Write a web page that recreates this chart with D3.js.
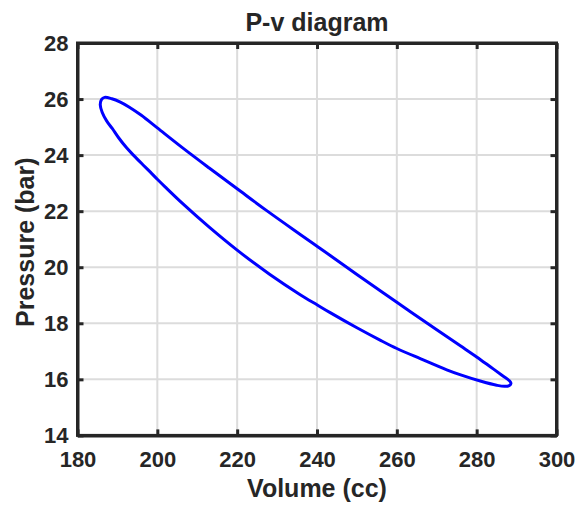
<!DOCTYPE html>
<html>
<head>
<meta charset="utf-8">
<script src="https://cdn.jsdelivr.net/npm/d3@7"></script>
<style>
  body { margin: 0; background: #fff; }
  text { font-family: "Liberation Sans", Arial, Helvetica, sans-serif; font-weight: bold; fill: #262626; }
</style>
</head>
<body>
<svg id="chart" width="583" height="508"></svg>
<script>
// Axis ticks
const volumeTicks = [180, 200, 220, 240, 260, 280, 300];
const pressureTicks = [14, 16, 18, 20, 22, 24, 26, 28];

// Closed P-v loop (cc, bar), traced clockwise from the top-left corner
const volume = [
  186.8, 188.6, 190.6, 193.0, 196.0, 200.0, 206.5, 213.0, 220.0, 227.4,
  235.8, 240.0, 243.3, 250.0, 260.0, 270.0, 276.0, 280.0, 283.5, 286.5,
  288.2, 288.6, 288.2, 287.0, 285.0, 280.9, 276.0, 272.5, 266.0, 260.0,
  255.8, 250.0, 243.3, 240.0, 235.8, 228.2, 220.0, 213.0, 206.5, 202.0,
  200.0, 198.2, 196.5, 194.0, 192.3, 190.3, 188.7, 187.3, 186.2, 185.7,
  186.0
];
const pressure = [
  26.06, 26.01, 25.90, 25.71, 25.42, 24.97, 24.24, 23.54, 22.80, 22.02,
  21.17, 20.75, 20.42, 19.74, 18.75, 17.77, 17.19, 16.80, 16.44, 16.13,
  15.95, 15.86, 15.78, 15.75, 15.79, 15.94, 16.16, 16.34, 16.73, 17.10,
  17.40, 17.84, 18.38, 18.66, 19.02, 19.74, 20.61, 21.43, 22.25, 22.86,
  23.14, 23.40, 23.64, 24.00, 24.26, 24.62, 24.95, 25.22, 25.52, 25.80,
  25.98
];

const titleText = "P-v diagram";
const xLabel = "Volume (cc)";
const yLabel = "Pressure (bar)";

const svg = d3.select("#chart");
const plotLeft = 77.5, plotRight = 556.5, plotTop = 43, plotBottom = 435.4;

const x = d3.scaleLinear().domain([180, 300]).range([plotLeft, plotRight]);
const y = d3.scaleLinear().domain([14, 28]).range([plotBottom, plotTop]);

const ink = "#262626";
const axisWidth = 3;

// Grid
const grid = svg.append("g");
grid.selectAll("line.gx").data(volumeTicks.slice(1, -1)).join("line")
  .attr("x1", d => x(d)).attr("x2", d => x(d))
  .attr("y1", plotTop).attr("y2", plotBottom)
  .attr("stroke", "#dcdcdc").attr("stroke-width", 2);
grid.selectAll("line.gy").data(pressureTicks.slice(1, -1)).join("line")
  .attr("y1", d => y(d)).attr("y2", d => y(d))
  .attr("x1", plotLeft).attr("x2", plotRight)
  .attr("stroke", "#dcdcdc").attr("stroke-width", 2);

// Loop
const pts = volume.map((v, i) => [v, pressure[i]]);
svg.append("path")
  .datum(pts)
  .attr("fill", "none")
  .attr("stroke", "#0000ff")
  .attr("stroke-width", 3)
  .attr("stroke-linejoin", "round")
  .attr("d", d3.line().x(d => x(d[0])).y(d => y(d[1])).curve(d3.curveCatmullRomClosed.alpha(0.5)));

// Axes (ticks pointing inward on all four sides)
function styleAxis(g) {
  g.select(".domain").attr("stroke", ink).attr("stroke-width", axisWidth);
  g.selectAll(".tick line").attr("stroke", ink).attr("stroke-width", axisWidth);
  g.selectAll(".tick text").attr("fill", ink).style("font-size", "22px")
    .style("font-family", "'Liberation Sans', Arial, sans-serif").style("font-weight", "bold");
}

svg.append("g").attr("transform", `translate(0,${plotBottom})`)
  .call(d3.axisBottom(x).tickValues(volumeTicks).tickSize(-6).tickSizeOuter(0).tickPadding(16))
  .call(styleAxis);
svg.append("g").attr("transform", `translate(0,${plotTop})`)
  .call(d3.axisTop(x).tickValues(volumeTicks).tickSize(-6).tickSizeOuter(0).tickFormat(""))
  .call(styleAxis);
svg.append("g").attr("transform", `translate(${plotLeft},0)`)
  .call(d3.axisLeft(y).tickValues(pressureTicks).tickSize(-6).tickSizeOuter(0).tickPadding(9))
  .call(styleAxis);
svg.append("g").attr("transform", `translate(${plotRight},0)`)
  .call(d3.axisRight(y).tickValues(pressureTicks).tickSize(-6).tickSizeOuter(0).tickFormat(""))
  .call(styleAxis);

// Box outline
svg.append("rect")
  .attr("x", plotLeft).attr("y", plotTop)
  .attr("width", plotRight - plotLeft).attr("height", plotBottom - plotTop)
  .attr("fill", "none").attr("stroke", ink).attr("stroke-width", axisWidth);

// Labels
svg.append("text").attr("x", (plotLeft + plotRight) / 2).attr("y", 30.5)
  .attr("text-anchor", "middle").style("font-size", "25px").text(titleText);
svg.append("text").attr("x", (plotLeft + plotRight) / 2).attr("y", 497)
  .attr("text-anchor", "middle").style("font-size", "25px").text(xLabel);
svg.append("text")
  .attr("transform", `translate(33.5,${(plotTop + plotBottom) / 2 + 3}) rotate(-90)`)
  .attr("text-anchor", "middle").style("font-size", "25px").text(yLabel);
</script>
</body>
</html>
